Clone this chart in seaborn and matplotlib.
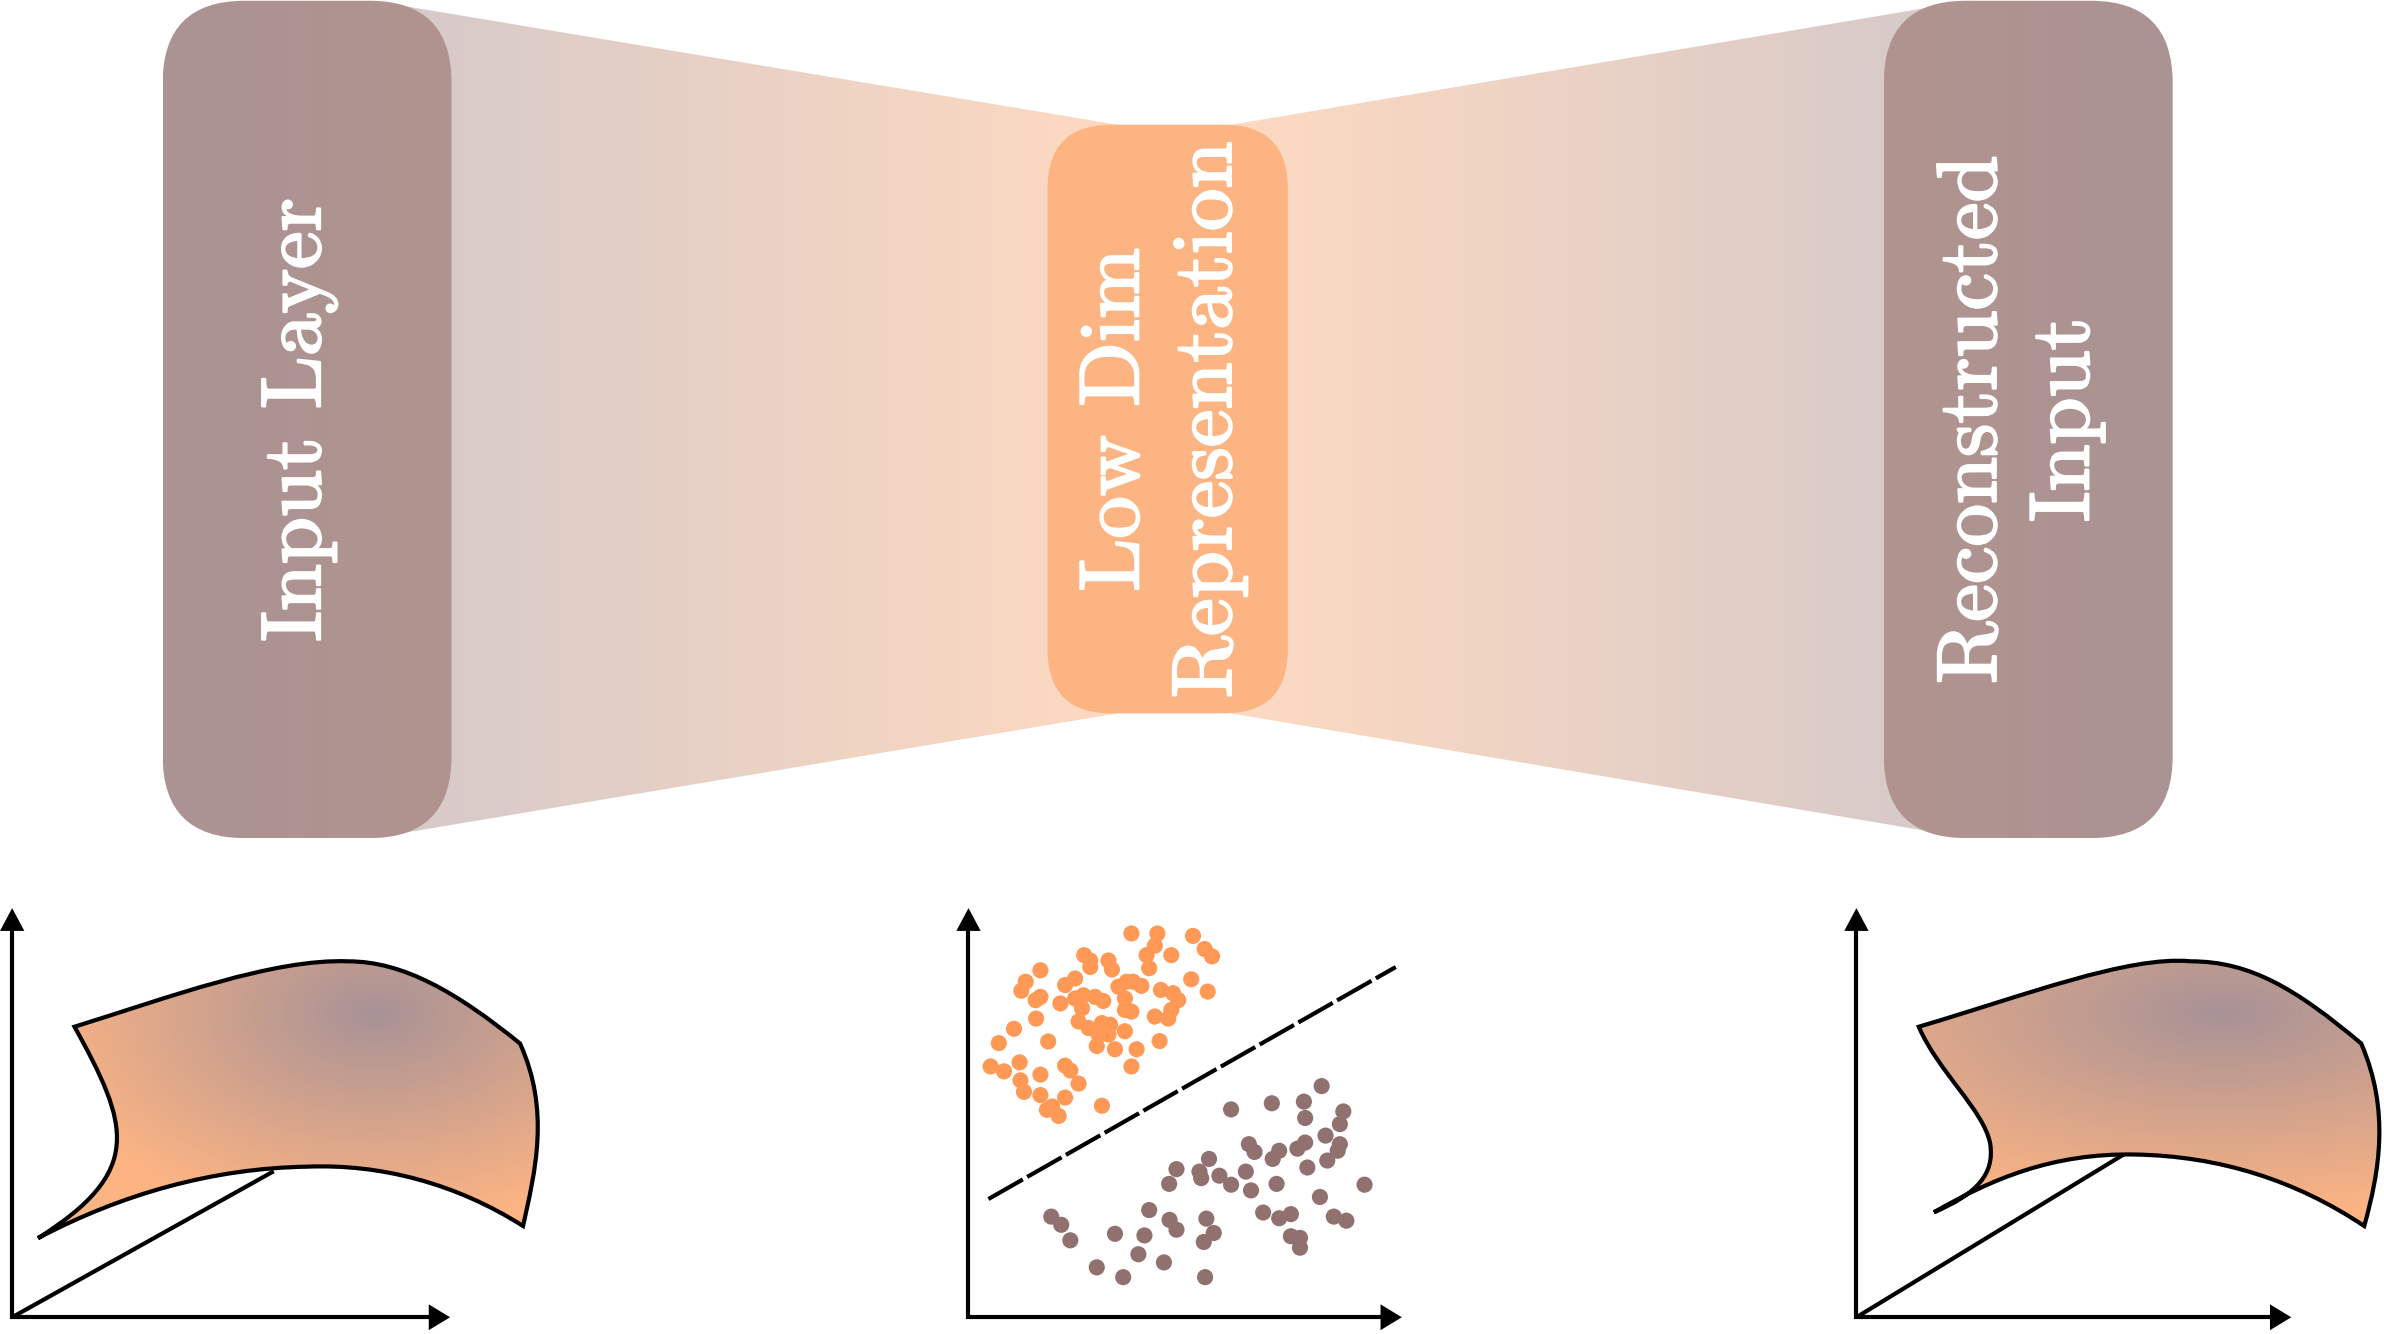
import numpy as np
import matplotlib
matplotlib.use("Agg")
import matplotlib.pyplot as plt
import matplotlib.patheffects as pe
import seaborn as sns
import pandas as pd
from matplotlib.patches import FancyBboxPatch, Polygon, PathPatch
from matplotlib.path import Path

# ---------------- data ----------------
layer_labels = ["Input Layer", "Low Dim\nRepresentation", "Reconstructed\nInput"]

# latent space scatter (axes units 0..100)
orange_x = [37.6, 43.6, 51.8, 43.0, 54.5, 56.2, 41.1, 46.8, 26.7, 28.1, 32.3, 28.1, 33.1,
            41.7, 16.6, 51.4, 55.2, 13.2, 12.2, 22.3, 24.6, 16.6, 15.5, 34.6, 36.5, 39.9,
            38.0, 44.4, 47.2, 48.4, 21.2, 24.6, 26.5, 29.2, 31.1, 26.2, 36.1, 36.1, 37.6,
            46.8, 43.0, 46.1, 10.5, 15.6, 25.4, 27.7, 30.8, 32.7, 36.1, 30.0, 32.3, 7.0,
            18.4, 29.6, 33.8, 38.8, 44.1, 5.1, 8.2, 11.8, 16.6, 22.3, 23.5, 12.0, 12.8,
            16.6, 25.4, 22.3, 19.3, 20.8, 30.8, 37.6, 18.1]
orange_y = [93.8, 93.8, 93.2, 90.8, 90.0, 88.2, 88.5, 88.5, 88.5, 87.2, 87.2, 85.6, 85.0,
            85.3, 84.8, 82.6, 79.6, 82.0, 79.8, 81.2, 82.8, 78.3, 77.5, 80.8, 82.0, 81.0,
            82.0, 80.0, 79.2, 77.5, 76.7, 77.9, 78.7, 78.3, 77.3, 75.5, 77.9, 75.1, 74.7,
            75.1, 73.5, 73.0, 70.5, 73.0, 72.3, 70.7, 71.9, 71.5, 69.9, 69.1, 69.1, 67.0,
            67.4, 66.3, 65.5, 65.5, 67.5, 61.3, 60.1, 62.3, 59.3, 61.5, 60.3, 57.9, 55.1,
            54.3, 57.1, 53.7, 51.5, 49.2, 51.7, 61.3, 50.7]
brown_x = [81.5, 60.6, 70.0, 77.4, 77.7, 86.5, 85.7, 82.4, 64.7, 66.0, 71.7, 70.2, 75.9,
           77.7, 85.7, 85.2, 82.8, 78.2, 55.5, 48.0, 53.3, 53.7, 57.9, 60.6, 64.0, 65.2,
           46.3, 71.1, 91.4, 81.1, 41.7, 46.4, 48.0, 54.9, 56.6, 54.3, 68.0, 71.7, 74.4,
           74.4, 76.5, 76.5, 84.3, 87.2, 19.1, 21.4, 23.5, 33.8, 40.6, 39.2, 29.6, 35.7,
           45.1, 54.6]
brown_y = [56.5, 50.8, 52.3, 52.7, 48.7, 50.3, 47.2, 44.4, 42.3, 40.4, 40.7, 38.7, 41.2,
           42.7, 42.3, 40.7, 38.3, 36.6, 38.7, 36.2, 35.6, 34.0, 34.6, 32.4, 35.6, 31.0,
           32.6, 32.6, 32.4, 29.4, 26.2, 23.8, 21.4, 24.1, 20.6, 18.4, 25.6, 24.2, 25.2,
           19.8, 19.4, 17.0, 24.6, 23.6, 24.6, 22.6, 18.8, 20.4, 20.0, 15.4, 12.2, 9.8,
           13.4, 9.8]
boundary_x = [4.6, 98.6]
boundary_y = [28.9, 85.6]

# ---------------- style ----------------
sns.set_theme(style="white")
plt.rcParams["font.family"] = ["cmr10", "DejaVu Serif"]
plt.rcParams["axes.unicode_minus"] = False

MAUVE = np.array([170, 147, 147]) / 255
MAUVE_R = np.array([177, 148, 143]) / 255
ORANGE = np.array([253, 180, 131]) / 255
WHITE = np.array([1.0, 1.0, 1.0])
DOT_OR = "#FF9955"
DOT_BR = "#917070"
LW = 3.0

W, H = 1568, 877
fig = plt.figure(figsize=(23.84, 13.34), dpi=100)
ax = fig.add_axes([0, 0, 1, 1])
ax.set_xlim(0, W)
ax.set_ylim(H, 0)
ax.axis("off")


def grad_fill(patch, x0, x1, y0, y1, func, z, n=400):
    xs = np.linspace(x0, x1, n)
    ys = np.linspace(y0, y1, n)
    X, Y = np.meshgrid(xs, ys)
    rgb = np.clip(func(X, Y), 0, 1)
    patch.set_facecolor("none")
    patch.set_edgecolor("none")
    patch.set_zorder(z)
    ax.add_patch(patch)
    im = ax.imshow(rgb, extent=[x0, x1, y1, y0], origin="upper", aspect="auto",
                   interpolation="bilinear", zorder=z)
    im.set_clip_path(patch)


def hlin(c0, c1, xa, xb):
    def f(X, Y):
        t = np.clip((X - xa) / (xb - xa), 0, 1)[..., None]
        return c0 * (1 - t) + c1 * t
    return f


def radial(cx, cy, rx, ry, c0, c1):
    def f(X, Y):
        t = np.clip(np.sqrt(((X - cx) / rx) ** 2 + ((Y - cy) / ry) ** 2), 0, 1)[..., None]
        return c0 * (1 - t) + c1 * t
    return f


# ---------------- funnels ----------------
half_m = 0.5 * MAUVE + 0.5 * WHITE
half_o = 0.5 * ORANGE + 0.5 * WHITE
lf = Polygon([(245, 0.5), (735, 82), (735, 469), (245, 551)], closed=True)
grad_fill(lf, 245, 735, 0, 551, hlin(half_m, half_o, 245, 735), 1)
rf = Polygon([(1295, 0.5), (810, 82), (810, 469), (1295, 551)], closed=True)
grad_fill(rf, 810, 1295, 0, 551, hlin(half_o, half_m, 810, 1295), 1)

# ---------------- boxes ----------------
lb = FancyBboxPatch((107, 0.5), 190, 550.5, boxstyle="round,pad=0,rounding_size=54")
grad_fill(lb, 107, 297, 0, 551, hlin(MAUVE, MAUVE_R, 107, 297), 2)
rb = FancyBboxPatch((1239, 0.5), 190, 550.5, boxstyle="round,pad=0,rounding_size=54")
grad_fill(rb, 1239, 1429, 0, 551, hlin(MAUVE_R, MAUVE, 1239, 1429), 2)
mb = FancyBboxPatch((689, 82), 158, 387, boxstyle="round,pad=0,rounding_size=42",
                    facecolor="#FDB483", edgecolor="none", zorder=2)
ax.add_patch(mb)

txt_kw = dict(rotation=90, ha="center", va="center", color="white", fontsize=61,
              family=["cmr10", "DejaVu Serif"], multialignment="center",
              linespacing=1.3, zorder=5,
              path_effects=[pe.withStroke(linewidth=1.6, foreground="white")])
ax.text(197, 276, layer_labels[0], **txt_kw)
ax.text(765, 276, layer_labels[1], **txt_kw)
ax.text(1329, 276, layer_labels[2], **txt_kw)


# ---------------- small axes with arrows ----------------
def axes_arrows(ox, oy, ytip, xtip):
    ax.plot([ox, ox, xtip - 13], [ytip + 14, oy, oy], color="black", lw=LW,
            solid_joinstyle="miter", solid_capstyle="butt", zorder=6)
    ax.add_patch(Polygon([(ox, ytip), (ox - 8, ytip + 15), (ox + 8, ytip + 15)],
                         closed=True, facecolor="black", edgecolor="none", zorder=6))
    ax.add_patch(Polygon([(xtip, oy), (xtip - 14, oy - 8.5), (xtip - 14, oy + 8.5)],
                         closed=True, facecolor="black", edgecolor="none", zorder=6))


M, C = Path.MOVETO, Path.CURVE4

# left manifold
axes_arrows(8, 866, 597, 296)
ax.plot([8, 180], [866, 770], color="black", lw=LW, zorder=3, solid_capstyle="butt")
left_verts = [(25, 814),
              (95, 770), (85, 740), (49, 675),
              (110, 656), (180, 630), (229, 632),
              (265, 632), (300, 652), (342, 686),
              (362, 730), (352, 770), (344, 806),
              (300, 778), (250, 765), (202, 767),
              (140, 768), (80, 785), (25, 814)]
left_codes = [M] + [C] * 18
lpath = Path(left_verts, left_codes)
grad_fill(PathPatch(lpath), 20, 370, 620, 820,
          radial(247, 666, 230, 140, np.array([168, 146, 150]) / 255, ORANGE), 4)
ax.add_patch(PathPatch(lpath, facecolor="none", edgecolor="black", lw=LW,
                       joinstyle="miter", zorder=5))

# right manifold
axes_arrows(1221, 866, 597, 1507)
ax.plot([1221, 1400], [866, 757], color="black", lw=LW, zorder=3, solid_capstyle="butt")
right_verts = [(1272, 797),
               (1300, 785), (1312, 772), (1309, 752),
               (1305, 730), (1275, 705), (1262, 675),
               (1330, 655), (1400, 628), (1441, 632),
               (1480, 632), (1510, 650), (1553, 686),
               (1572, 730), (1565, 770), (1555, 806),
               (1510, 776), (1460, 760), (1404, 759),
               (1350, 758), (1310, 775), (1272, 797)]
right_codes = [M] + [C] * 21
rpath = Path(right_verts, right_codes)
grad_fill(PathPatch(rpath), 1250, 1575, 620, 820,
          radial(1461, 666, 320, 135, np.array([168, 146, 150]) / 255, ORANGE), 4)
ax.add_patch(PathPatch(rpath, facecolor="none", edgecolor="black", lw=LW,
                       joinstyle="miter", zorder=5))

# middle latent scatter
axes_arrows(637, 866, 597, 922)
ax2 = fig.add_axes([637 / W, 1 - 866 / H, 285 / W, 269 / H])
ax2.set_xlim(0, 100)
ax2.set_ylim(0, 100)
ax2.axis("off")
df = pd.DataFrame({
    "x": orange_x + brown_x,
    "y": orange_y + brown_y,
    "cluster": ["A"] * len(orange_x) + ["B"] * len(brown_x),
})
sns.scatterplot(data=df, x="x", y="y", hue="cluster",
                palette={"A": DOT_OR, "B": DOT_BR}, s=135, linewidth=0,
                legend=False, ax=ax2, clip_on=False)
ax2.plot(boundary_x, boundary_y, color="black", lw=LW, dashes=(9.5, 1.2),
         solid_capstyle="butt", dash_capstyle="butt")

fig.savefig("out.png", dpi=100)
